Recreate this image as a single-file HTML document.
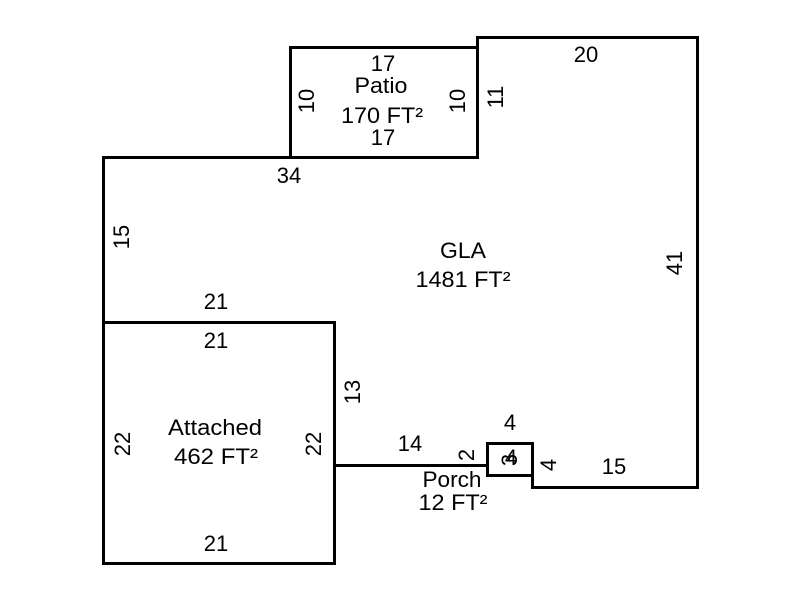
<!DOCTYPE html>
<html><head><meta charset="utf-8"><style>
html,body{margin:0;padding:0;background:#fff;}
svg{display:block;}
text{font-family:"Liberation Sans",Arial,sans-serif;font-size:22px;fill:#000;text-anchor:middle;}
</style></head><body>
<svg width="800" height="600" viewBox="0 0 800 600" xmlns="http://www.w3.org/2000/svg">
<g fill="none" stroke="#000" stroke-width="3" stroke-linecap="square" stroke-linejoin="miter">
<!-- GLA outline -->
<polyline points="103.5,322.5 103.5,157.5 477.5,157.5 477.5,37.5 697.5,37.5 697.5,487.5 532.5,487.5 532.5,475.5"/>
<line x1="334.5" y1="465.5" x2="487.5" y2="465.5"/>
<!-- Patio -->
<polyline points="290.5,157.5 290.5,47.5 477.5,47.5"/>
<!-- Attached -->
<rect x="103.5" y="322.5" width="231" height="241"/>
<!-- Porch -->
<rect x="487.5" y="443.5" width="45" height="32"/>
</g>

<!-- Patio labels -->
<text x="383" y="71">17</text>
<text x="381" y="93" textLength="53" lengthAdjust="spacingAndGlyphs">Patio</text>
<text x="382" y="123" textLength="82" lengthAdjust="spacingAndGlyphs">170 FT²</text>
<text x="383" y="145">17</text>
<text transform="translate(306,101) rotate(-90)" y="8">10</text>
<text transform="translate(457,101) rotate(-90)" y="8">10</text>
<text transform="translate(495,97) rotate(-90)" y="8">11</text>

<!-- GLA labels -->
<text x="586" y="62">20</text>
<text x="289" y="183">34</text>
<text transform="translate(121,237) rotate(-90)" y="8">15</text>
<text x="463" y="258" textLength="46" lengthAdjust="spacingAndGlyphs">GLA</text>
<text x="463" y="287" textLength="95" lengthAdjust="spacingAndGlyphs">1481 FT²</text>
<text transform="translate(674,263) rotate(-90)" y="8">41</text>
<text x="216" y="309">21</text>
<text transform="translate(352,392) rotate(-90)" y="8">13</text>
<text x="410" y="451">14</text>
<text x="614" y="474">15</text>

<!-- Attached labels -->
<text x="216" y="348">21</text>
<text x="215" y="435" textLength="94" lengthAdjust="spacingAndGlyphs">Attached</text>
<text x="216" y="464" textLength="84" lengthAdjust="spacingAndGlyphs">462 FT²</text>
<text transform="translate(122,444) rotate(-90)" y="8">22</text>
<text transform="translate(313,444) rotate(-90)" y="8">22</text>
<text x="216" y="551">21</text>

<!-- Porch labels -->
<text x="510" y="430">4</text>
<text transform="translate(466,455) rotate(-90)" y="8">2</text>
<text transform="translate(509,460) rotate(-90)" y="8">3</text>
<text x="511" y="465">4</text>
<text transform="translate(548,465) rotate(-90)" y="8">4</text>
<text x="452" y="487" textLength="59" lengthAdjust="spacingAndGlyphs">Porch</text>
<text x="453" y="510" textLength="69" lengthAdjust="spacingAndGlyphs">12 FT²</text>
</svg>
</body></html>
